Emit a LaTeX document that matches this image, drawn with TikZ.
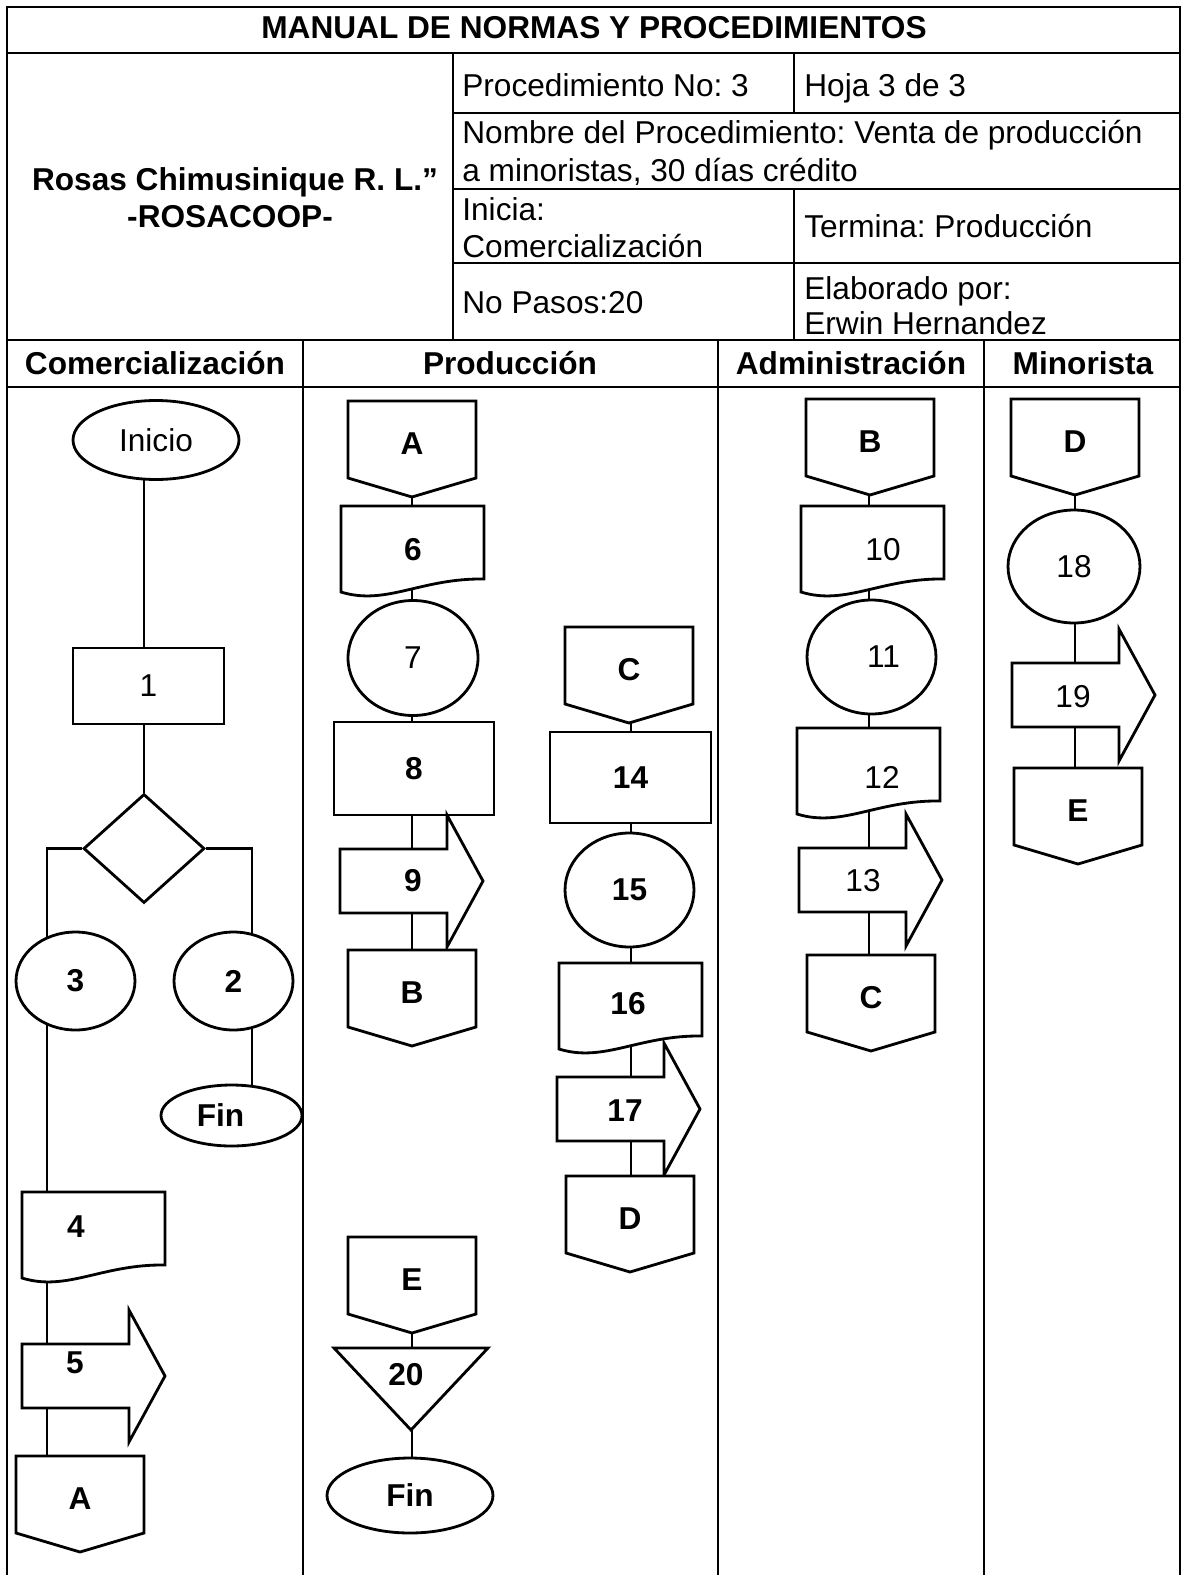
\documentclass[tikz,border=0pt]{standalone}
\usepackage{fontspec}
\setmainfont{Liberation Sans}
\usetikzlibrary{shapes.geometric,backgrounds,positioning}
\frenchspacing

\tikzstyle{txt} = [font=\fontsize{18}{21}\selectfont, inner sep=0pt]
\tikzstyle{hdrtxt} = [txt, anchor=base west]
\tikzstyle{boldtxt} = [txt, font=\fontsize{18}{21}\selectfont\bfseries, anchor=base]
\tikzstyle{shapeline} = [line width=1.6pt, fill=white]
\tikzstyle{term} = [ellipse, draw, shapeline, txt]
\tikzstyle{proc} = [rectangle, draw, shapeline, txt]
\tikzstyle{decision} = [diamond, draw, shapeline, txt]
\tikzstyle{link} = [line width=1.5pt]
\tikzstyle{frameline} = [line width=1.2pt]

% conector de pagina: nombre, x centro, y arriba, texto
\newcommand{\offpage}[4]{%
  \draw[shapeline] (#2-64,#3) -- ++(128,0) -- ++(0,77) -- ++(-64,19) -- ++(-64,-19) -- cycle;
  \node[txt] (#1) at (#2,#3+43) {#4};}
% documento: nombre, x izquierda, y arriba, posicion texto, texto
\newcommand{\docshape}[5]{%
  \draw[shapeline] (#2,#3) -- (#2+143,#3) -- (#2+143,#3+73)
    .. controls (#2+80,#3+72) and (#2+45,#3+100) .. (#2,#3+86) -- cycle;
  \node[txt] (#1) at (#4) {#5};}
% traslado: nombre, x izquierda, y medio, posicion texto, texto
\newcommand{\arrowshape}[5]{%
  \draw[shapeline] (#2,#3-32) -- (#2+107,#3-32) -- (#2+107,#3-66) -- (#2+143,#3)
    -- (#2+107,#3+66) -- (#2+107,#3+32) -- (#2,#3+32) -- cycle;
  \node[txt] (#1) at (#4) {#5};}

\begin{document}
\begin{tikzpicture}[x=0.02cm, y=-0.02cm]
\useasboundingbox (0,0) rectangle (1183,1575);

% Encabezado
\node[boldtxt] (titulo) at (594,39) {MANUAL DE NORMAS Y PROCEDIMIENTOS};
\node[boldtxt] (empresa) at (235,190) {Rosas Chimusinique R. L.”};
\node[boldtxt] (siglas) at (230,227) {-ROSACOOP-};
\node[hdrtxt] (procno) at (462,97) {Procedimiento No: 3};
\node[hdrtxt] (hoja) at (804,97) {Hoja 3 de 3};
\node[hdrtxt] (nombre) at (462,143) {Nombre del Procedimiento: Venta de producción};
\node[hdrtxt] (nombreb) at (462,181) {a minoristas, 30 días crédito};
\node[hdrtxt] (inicia) at (462,220) {Inicia:};
\node[hdrtxt] (iniciab) at (462,257) {Comercialización};
\node[hdrtxt] (termina) at (804,237) {Termina: Producción};
\node[hdrtxt] (pasos) at (462,313) {No Pasos:20};
\node[hdrtxt] (elab) at (804,299) {Elaborado por:};
\node[hdrtxt] (elabb) at (804,334) {Erwin Hernandez};

% Carriles
\node[boldtxt] (laneCom) at (155,374) {Comercialización};
\node[boldtxt] (laneProd) at (510,374) {Producción};
\node[boldtxt] (laneAdm) at (851,374) {Administración};
\node[boldtxt] (laneMin) at (1083,374) {Minorista};

% Comercializacion
\node[term, minimum width=3.32cm, minimum height=1.58cm] (inicio) at (156,440) {Inicio};
\node[proc, minimum width=3.02cm, minimum height=1.52cm] (s1) at (148.5,686) {1};
\node[decision, minimum width=2.42cm, minimum height=2.18cm] (dec) at (144,848.5) {};
\node[term, minimum width=2.38cm, minimum height=1.96cm] (s3) at (75.5,981) {\textbf{3}};
\node[term, minimum width=2.38cm, minimum height=1.96cm] (s2) at (233.5,981) {\textbf{2}};
\node[term, minimum width=2.82cm, minimum height=1.22cm] (fin1) at (231.5,1115.5) {\textbf{Fin}\hspace*{0.44cm}};
\docshape{s4}{22}{1192}{76,1227}{\textbf{4}}
\arrowshape{s5}{22}{1376}{75,1363}{\textbf{5}}
\offpage{outA}{80}{1456}{\textbf{A}}

% Produccion
\offpage{inA}{412}{401}{\textbf{A}}
\docshape{s6}{341}{506}{413,550}{\textbf{6}}
\node[term, minimum width=2.6cm, minimum height=2.3cm] (s7) at (413,658) {7};
\node[proc, minimum width=3.2cm, minimum height=1.86cm] (s8) at (414,768.5) {\textbf{8}};
\arrowshape{s9}{340}{881}{413,881}{\textbf{9}}
\offpage{outB}{412}{950}{\textbf{B}}
\offpage{inE}{412}{1237}{\textbf{E}}
\draw[shapeline] (334,1348) -- (488,1348) -- (411,1430) -- cycle;
\node[txt] (s20) at (406,1375) {\textbf{20}};
\node[term, minimum width=3.32cm, minimum height=1.5cm] (fin2) at (410,1495.5) {\textbf{Fin}};

\offpage{inC}{629}{627}{\textbf{C}}
\node[proc, minimum width=3.22cm, minimum height=1.82cm] (s14) at (630.5,777.5) {\textbf{14}};
\node[term, minimum width=2.58cm, minimum height=2.28cm] (s15) at (629.5,890) {\textbf{15}};
\docshape{s16}{559}{963}{628,1004}{\textbf{16}}
\arrowshape{s17}{557}{1109}{625,1111}{\textbf{17}}
\offpage{outD}{630}{1176}{\textbf{D}}

% Administracion
\offpage{inB}{870}{399}{\textbf{B}}
\docshape{s10}{801}{506}{883,550}{10}
\node[term, minimum width=2.58cm, minimum height=2.28cm] (s11) at (871.5,657) {\hspace*{0.48cm}11};
\docshape{s12}{797}{728}{882,777}{12}
\arrowshape{s13}{799}{880}{863,881}{13}
\offpage{outC}{871}{955}{\textbf{C}}

% Minorista
\offpage{inD}{1075}{399}{\textbf{D}}
\node[term, minimum width=2.64cm, minimum height=2.26cm] (s18) at (1074,566.5) {18};
\arrowshape{s19}{1012}{695}{1073,697}{19}
\offpage{outE}{1078}{768}{\textbf{E}}

% Conectores
\begin{scope}[on background layer]
\coordinate (colA) at (144,0);
\coordinate (colB) at (47,0);
\coordinate (colC) at (252,0);
\coordinate (colP) at (412,0);
\coordinate (colQ) at (631,0);
\coordinate (colR) at (869,0);
\coordinate (colS) at (1075,0);
\draw[link] (colA |- inicio) -- (colA |- s1);
\draw[link] (colA |- s1) -- (dec);
\draw[link] (dec.west) -| (colB |- s3);
\foreach \a/\b in {s3/s4, s4/s5, s5/outA}
  \draw[link] (colB |- \a) -- (colB |- \b);
\draw[link] (dec.east) -| (colC |- s2);
\draw[link] (colC |- s2) -- (colC |- fin1);
\foreach \a/\b in {inA/s6, s6/s7, s7/s8, s8/s9, s9/outB, inE/s20, s20/fin2}
  \draw[link] (colP |- \a) -- (colP |- \b);
\foreach \a/\b in {inC/s14, s14/s15, s15/s16, s16/s17, s17/outD}
  \draw[link] (colQ |- \a) -- (colQ |- \b);
\foreach \a/\b in {inB/s10, s10/s11, s11/s12, s12/s13, s13/outC}
  \draw[link] (colR |- \a) -- (colR |- \b);
\foreach \a/\b in {inD/s18, s18/s19, s19/outE}
  \draw[link] (colS |- \a) -- (colS |- \b);
\end{scope}

% Marco de la tabla
\draw[frameline] (7,1575) -- (7,7) -- (1180,7) -- (1180,1575);
\draw[frameline] (7,53) -- (1180,53);
\draw[frameline] (453,53) -- (453,340);
\draw[frameline] (794,53) -- (794,113);
\draw[frameline] (794,189) -- (794,340);
\foreach \y in {113,189,263}
  \draw[frameline] (453,\y) -- (1180,\y);
\foreach \y in {340,387}
  \draw[frameline] (7,\y) -- (1180,\y);
\foreach \x in {303,718,984}
  \draw[frameline] (\x,340) -- (\x,1575);
\end{tikzpicture}
\end{document}
